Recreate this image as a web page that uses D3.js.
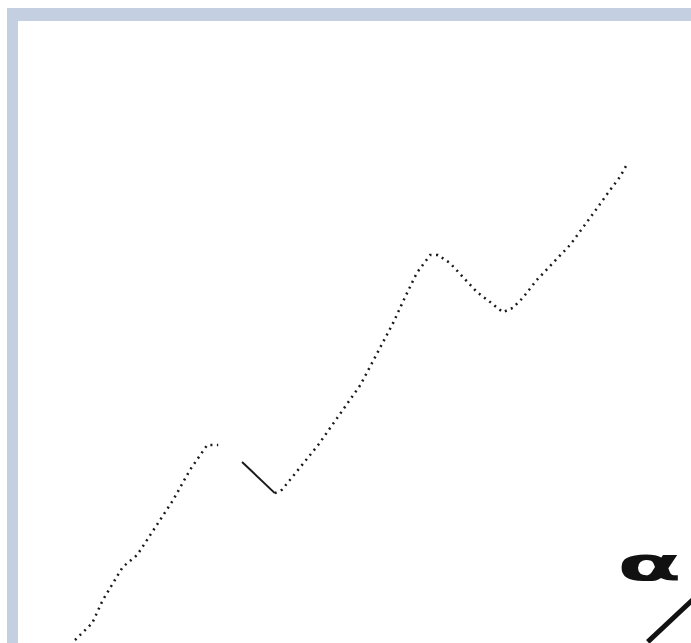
<!DOCTYPE html>
<html>
<head>
<meta charset="utf-8">
<script src="https://cdn.jsdelivr.net/npm/d3@7"></script>
<style>
  body { margin: 0; background: #fff; }
  svg { display: block; }
</style>
</head>
<body>
<div id="chart"></div>
<script>
// 데이터 (x: 0-100, y: 0-100)
const risingX = [0, 3.1, 5.0, 8.6, 11.2, 17.7, 20.7, 23.8, 25.8];
const risingY = [0, 3.5, 8.3, 15.2, 17.7, 29.2, 35.4, 40.6, 40.6];

const dipX = [30.1, 36.0];
const dipY = [37.1, 30.6];

const climbX = [36.0, 37.3, 43.8, 51.4, 57.3, 59.5, 61.6, 64.0, 65.4, 67.6, 72.4, 74.8, 77.1, 78.9, 80.7, 83.2, 89.2, 94.1, 96.0, 98.2, 99.6];
const climbY = [30.6, 31.3, 40.6, 53.1, 66.0, 71.5, 76.5, 80.2, 80.2, 78.5, 72.5, 70.4, 68.3, 69.2, 71.3, 75.0, 82.3, 90.0, 93.1, 96.5, 99.4];

const otherX = [103.2, 112.6];
const otherY = [-0.4, 9.8];

const glyphLabel = 'α';

const W = 691, H = 643;
const svg = d3.select('#chart').append('svg')
    .attr('width', W)
    .attr('height', H);

// 프레임
svg.append('rect').attr('x', 7).attr('y', 8).attr('width', W).attr('height', 13).attr('fill', '#c4cfe1');
svg.append('rect').attr('x', 7).attr('y', 8).attr('width', 11).attr('height', H).attr('fill', '#c4cfe1');

const x = d3.scaleLinear().domain([0, 100]).range([75, 630]);
const y = d3.scaleLinear().domain([0, 100]).range([640, 160]);

const line = d3.line().x(d => x(d[0])).y(d => y(d[1]));
const zip = (a, b) => a.map((v, i) => [v, b[i]]);

svg.append('path')
    .datum(zip(risingX, risingY))
    .attr('d', line)
    .attr('fill', 'none')
    .attr('stroke', '#1a1a1a')
    .attr('stroke-width', 2.5)
    .attr('stroke-dasharray', '2,4.5');

svg.append('path')
    .datum(zip(dipX, dipY))
    .attr('d', line)
    .attr('fill', 'none')
    .attr('stroke', '#1a1a1a')
    .attr('stroke-width', 2);

svg.append('path')
    .datum(zip(climbX, climbY))
    .attr('d', line)
    .attr('fill', 'none')
    .attr('stroke', '#1a1a1a')
    .attr('stroke-width', 2.5)
    .attr('stroke-dasharray', '2,4.5');

svg.append('path')
    .datum(zip(otherX, otherY))
    .attr('d', line)
    .attr('fill', 'none')
    .attr('stroke', '#111')
    .attr('stroke-width', 5);

svg.append('text')
    .attr('transform', 'translate(617,580) scale(2.05,1)')
    .attr('font-family', 'DejaVu Sans')
    .attr('font-size', 46)
    .attr('font-weight', 'bold')
    .attr('fill', '#111')
    .text(glyphLabel);
</script>
</body>
</html>
